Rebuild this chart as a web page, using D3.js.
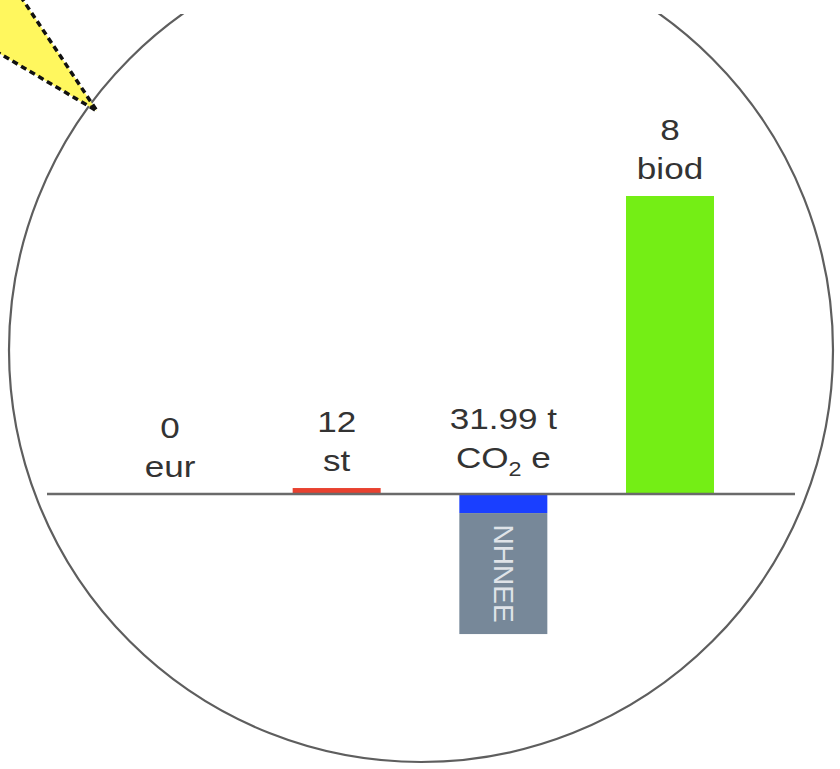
<!DOCTYPE html>
<html>
<head>
<meta charset="utf-8">
<script src="https://cdn.jsdelivr.net/npm/d3@7"></script>
<style>
  html, body { margin: 0; padding: 0; background: #fff; }
  svg { display: block; }
</style>
</head>
<body>
<script>
// ---- data ----
const categories   = ["eur", "st", "CO2e", "biod"];
const valueLabels  = ["0", "12", "31.99 t", "8"];
const unitLabels   = ["eur", "st", "CO{2} e", "biod"];   // {x} = subscript
const scores       = [0, 2, -6.4, 100];                   // normalised bar values
const barColors    = ["#888888", "#e8412f", "#1a3fff", "#74ee15"];
// stacked annotation bar below the CO2e bar
const extraCategory = ["CO2e"];
const extraStart    = [-6.4];
const extraEnd      = [-47.0];
const extraText     = ["NHNEE"];

// ---- layout ----
const W = 840, H = 769;
const svg = d3.select("body").append("svg").attr("width", W).attr("height", H);

const x = d3.scaleBand().domain(categories).range([126, 714]).paddingInner(0.472).paddingOuter(0);
const y = d3.scaleLinear().domain([0, 100]).range([494, 196]);

// clip for the circle (top is cut off)
svg.append("defs").append("clipPath").attr("id", "clipTop")
  .append("rect").attr("x", 0).attr("y", 14).attr("width", W).attr("height", H - 14);

svg.append("circle")
  .attr("cx", 421).attr("cy", 350).attr("r", 412)
  .attr("fill", "none").attr("stroke", "#5e5e5e").attr("stroke-width", 2.2)
  .attr("clip-path", "url(#clipTop)");

// callout triangle
svg.append("path")
  .attr("d", "M97,111 L15,-12 L-30,-12 L-30,36 Z")
  .attr("fill", "#fff75e").attr("stroke", "none");
svg.append("path")
  .attr("d", "M15,-12 L97,111 L-30,36")
  .attr("fill", "none").attr("stroke", "#111").attr("stroke-width", 3.5)
  .attr("stroke-dasharray", "6,4");

// bars
const bars = categories.map((c, i) => ({ c, v: scores[i], color: barColors[i] }));
svg.selectAll("rect.bar").data(bars.filter(d => d.v !== 0)).enter().append("rect")
  .attr("class", "bar")
  .attr("x", d => x(d.c))
  .attr("width", x.bandwidth())
  .attr("y", d => Math.min(y(d.v), y(0)))
  .attr("height", d => Math.abs(y(d.v) - y(0)))
  .attr("fill", d => d.color);

// extra annotation bars
const extras = extraCategory.map((c, i) => ({ c, a: extraStart[i], b: extraEnd[i], t: extraText[i] }));
svg.selectAll("rect.extra").data(extras).enter().append("rect")
  .attr("class", "extra")
  .attr("x", d => x(d.c))
  .attr("width", x.bandwidth())
  .attr("y", d => y(d.a))
  .attr("height", d => y(d.b) - y(d.a))
  .attr("fill", "#778899");
svg.selectAll("text.extra").data(extras).enter().append("text")
  .attr("class", "extra")
  .attr("transform", d => `translate(${x(d.c) + x.bandwidth() / 2},${(y(d.a) + y(d.b)) / 2}) rotate(90)`)
  .attr("text-anchor", "middle")
  .attr("dy", "0.35em")
  .attr("font-family", "Liberation Sans, Arial, sans-serif")
  .attr("font-size", 28)
  .attr("fill", "#dfe3e8")
  .text(d => d.t);

// axis line
svg.append("line")
  .attr("x1", 47).attr("x2", 795).attr("y1", y(0)).attr("y2", y(0))
  .attr("stroke", "#6a6a6a").attr("stroke-width", 2.5);

// labels
const fontFam = "Liberation Sans, Arial, Helvetica, sans-serif";
const stretch = 1.17;
categories.forEach((c, i) => {
  const top = Math.min(y(0), y(scores[i]));
  const hasSub = /\{.*\}/.test(unitLabels[i]);
  const base2 = top - 17 - (hasSub ? 9 : 0);
  const cx = x(c) + x.bandwidth() / 2;
  svg.append("text")
    .attr("transform", `translate(${cx},${base2 - 39}) scale(${stretch},1)`)
    .attr("text-anchor", "middle")
    .attr("font-family", fontFam).attr("font-size", 30).attr("fill", "#333")
    .text(valueLabels[i]);
  const t = svg.append("text")
    .attr("transform", `translate(${cx},${base2}) scale(${stretch},1)`)
    .attr("text-anchor", "middle")
    .attr("font-family", fontFam).attr("font-size", 30).attr("fill", "#333")
    .attr("xml:space", "preserve");
  const parts = unitLabels[i].split(/(\{[^}]*\})/).filter(s => s.length);
  let afterSub = false;
  parts.forEach(p => {
    if (p.startsWith("{")) {
      t.append("tspan").attr("font-size", 20).attr("dy", 8).text(p.slice(1, -1));
      afterSub = true;
    } else {
      const ts = t.append("tspan").text(p);
      if (afterSub) { ts.attr("dy", -8); afterSub = false; }
    }
  });
});
</script>
</body>
</html>
